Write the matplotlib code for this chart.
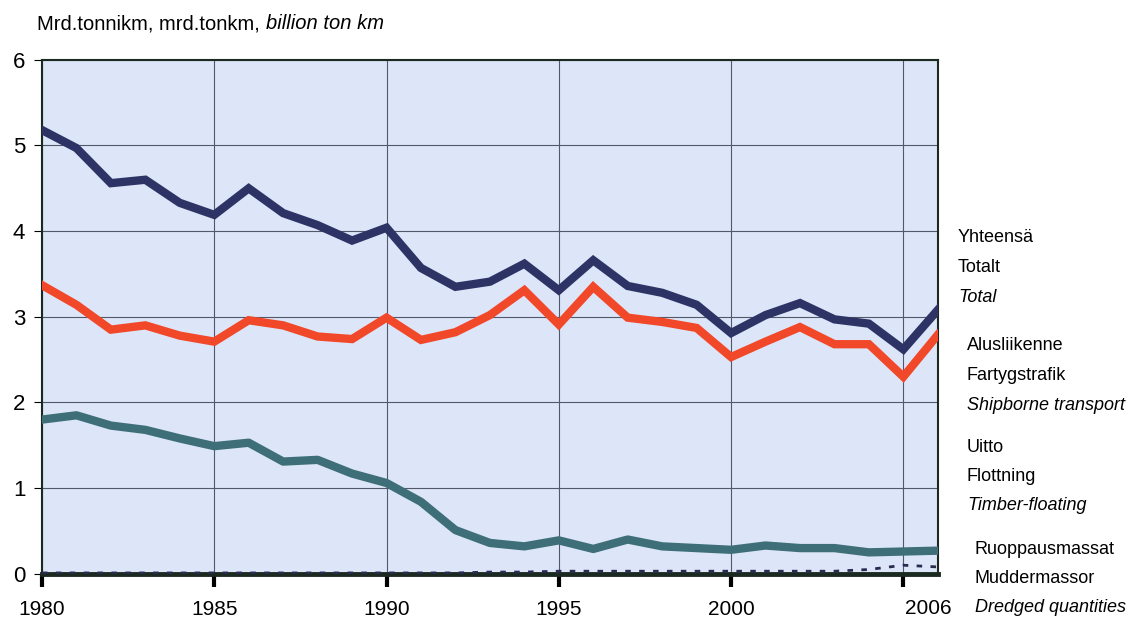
import matplotlib
matplotlib.use("Agg")
from matplotlib import pyplot as plt
from matplotlib import font_manager

# data
years = list(range(1980, 2007))
total = [5.18, 4.97, 4.56, 4.60, 4.33, 4.19, 4.50, 4.21, 4.07, 3.89, 4.04,
         3.57, 3.35, 3.41, 3.62, 3.31, 3.66, 3.36, 3.28, 3.14, 2.81,
         3.02, 3.16, 2.97, 2.92, 2.62, 3.08]
shipborne = [3.37, 3.14, 2.85, 2.90, 2.78, 2.71, 2.96, 2.90, 2.77, 2.74, 2.99,
             2.73, 2.82, 3.02, 3.31, 2.91, 3.35, 2.99, 2.94, 2.87, 2.53,
             2.71, 2.88, 2.68, 2.68, 2.30, 2.79]
timber = [1.80, 1.85, 1.73, 1.68, 1.58, 1.49, 1.53, 1.31, 1.33, 1.17, 1.06,
          0.84, 0.51, 0.36, 0.32, 0.39, 0.29, 0.40, 0.32, 0.30, 0.28,
          0.33, 0.30, 0.30, 0.25, 0.26, 0.27]
dredged = [0.01, 0.01, 0.01, 0.01, 0.01, 0.01, 0.01, 0.01, 0.01, 0.01, 0.01,
           0.01, 0.01, 0.02, 0.02, 0.03, 0.03, 0.03, 0.03, 0.03, 0.03,
           0.03, 0.03, 0.03, 0.05, 0.10, 0.08]
xticks = [1980, 1985, 1990, 1995, 2000, 2005]
xlabels = ["1980", "1985", "1990", "1995", "2000", ""]
yticks = [0, 1, 2, 3, 4, 5, 6]

names = set(f.name for f in font_manager.fontManager.ttflist)
fam = "Liberation Sans Narrow" if "Liberation Sans Narrow" in names else "Liberation Sans"
plt.rcParams['font.family'] = [fam, 'DejaVu Sans']

fig = plt.figure(figsize=(11.34, 6.23), dpi=100)
ax = fig.add_axes([0.037, 0.079, 0.790, 0.825])
ax.set_facecolor('#dce6f8')

ax.plot(years, total, color='#2e3366', lw=6, solid_joinstyle='miter', zorder=4)
ax.plot(years, shipborne, color='#f2482a', lw=6, solid_joinstyle='miter', zorder=4)
ax.plot(years, timber, color='#3e6e78', lw=6, zorder=4)
ax.plot(years, dredged, color='#2a2a50', lw=2, ls=(0, (2, 3)), zorder=4)

ax.set_xlim(1980, 2006)
ax.set_ylim(0, 6)
ax.set_xticks(xticks)
ax.set_xticklabels(xlabels, fontsize=15)
ax.set_yticks(yticks)
ax.set_yticklabels([str(v) for v in yticks], fontsize=16)
ax.grid(True, color='#50586a', lw=0.8)
ax.set_axisbelow(True)
ax.tick_params(axis='x', direction='out', length=9, width=3, pad=10)
ax.tick_params(axis='y', direction='out', length=6, width=0.8, pad=6)
for s in ax.spines.values():
    s.set_color('#1a2a20')
    s.set_linewidth(1.5)
ax.spines['bottom'].set_linewidth(3.5)
ax.text(2006.4, -0.3, "2006", ha='right', va='top', fontsize=15,
        transform=ax.transData, clip_on=False)

# heading
t1 = fig.text(0.033, 0.953, "Mrd.tonnikm, mrd.tonkm, ", fontsize=14.5, va='baseline')
ax.annotate("billion ton km", xy=(1, 0), xycoords=t1, fontsize=14.5,
            style='italic', va='bottom', ha='left')

# series labels on the right
labels = [
    (958, [("Yhteensä", 'normal'), ("Totalt", 'normal'), ("Total", 'italic')], 238),
    (967, [("Alusliikenne", 'normal'), ("Fartygstrafik", 'normal'),
           ("Shipborne transport", 'italic')], 346),
    (967, [("Uitto", 'normal'), ("Flottning", 'normal'),
           ("Timber-floating", 'italic')], 447),
    (975, [("Ruoppausmassat", 'normal'), ("Muddermassor", 'normal'),
           ("Dredged quantities", 'italic')], 549),
]
for px, lines, py in labels:
    for i, (txt, st) in enumerate(lines):
        fig.text(px / 1134, 1 - (py + i * 29.5) / 623, txt, fontsize=13,
                 style=st, va='center', ha='left')

plt.savefig('out.png', dpi=100)
plt.close()
